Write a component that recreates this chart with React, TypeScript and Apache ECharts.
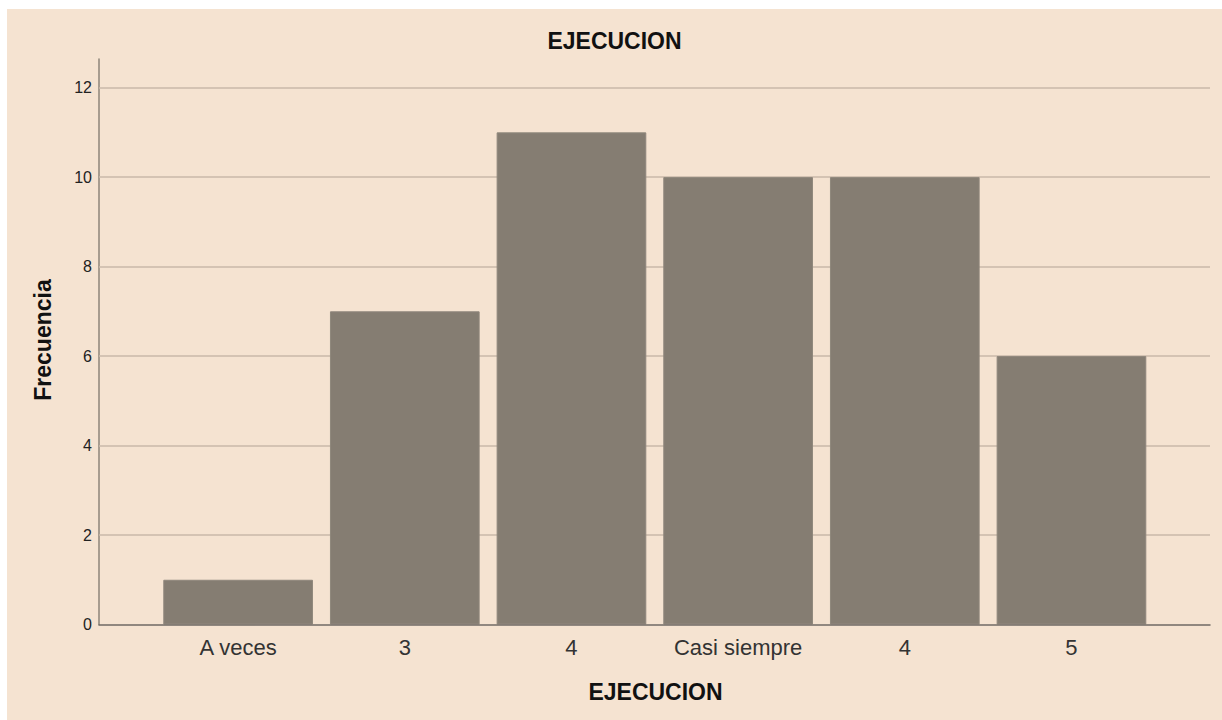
import React, { useEffect, useRef } from "react";
import * as echarts from "echarts";

const categories = ["A veces", "3", "4", "Casi siempre", "4", "5"];
const frequencies = [1, 7, 11, 10, 10, 6];
const yTicks = [0, 2, 4, 6, 8, 10, 12];
const titleText = "EJECUCION";
const xAxisTitle = "EJECUCION";
const yAxisTitle = "Frecuencia";

const FONT = "'Liberation Sans', Arial, sans-serif";
const BG = "#F5E3D1";
const BAR = "#857D72";
const YMAX = 12.64;

export default function App() {
  const ref = useRef<HTMLDivElement>(null);
  useEffect(() => {
    if (!ref.current) return;
    const chart = echarts.init(ref.current, undefined, { renderer: "svg" });
    const option: any = {
      animation: false,
      backgroundColor: BG,
      textStyle: { fontFamily: FONT },
      grid: [
        { left: 92, right: 12, top: 50, bottom: 95.5, containLabel: false },
        { left: 147.8, width: 1000, top: 50, bottom: 95.5, containLabel: false },
      ],
      xAxis: [
        {
          type: "value",
          gridIndex: 0,
          min: 0,
          max: 1,
          z: 10,
          axisLine: { show: true, onZero: false, lineStyle: { color: "#6f6a64", width: 1.5 } },
          axisTick: { show: false },
          axisLabel: { show: false },
          splitLine: { show: false },
        },
        {
          type: "category",
          gridIndex: 1,
          data: categories,
          axisLine: { show: false },
          axisTick: { show: false },
          axisLabel: {
            show: true,
            interval: 0,
            fontSize: 22,
            color: "#333333",
            fontFamily: FONT,
            margin: 12,
          },
          splitLine: { show: false },
        },
      ],
      yAxis: [
        {
          type: "value",
          gridIndex: 0,
          min: 0,
          max: YMAX,
          interval: 2,
          axisLine: { show: true, lineStyle: { color: "#8c8479", width: 1.5 } },
          axisTick: { show: false },
          axisLabel: {
            fontSize: 16,
            color: "#222222",
            fontFamily: FONT,
            margin: 7,
            formatter: (v: number) => (yTicks.includes(v) ? String(v) : ""),
            showMaxLabel: false,
          },
          splitLine: { show: false },
        },
        {
          type: "value",
          gridIndex: 1,
          min: 0,
          max: YMAX,
          show: false,
          splitLine: { show: false },
        },
      ],
      series: [
        {
          type: "line",
          xAxisIndex: 0,
          yAxisIndex: 0,
          data: [],
          silent: true,
          z: 1,
          markLine: {
            silent: true,
            z: 1,
            symbol: ["none", "none"],
            label: { show: false },
            lineStyle: { color: "#c9b9a8", width: 1.5, type: "solid" },
            data: yTicks.filter((t) => t > 0).map((t) => ({ yAxis: t })),
          },
        },
        {
          type: "bar",
          xAxisIndex: 1,
          yAxisIndex: 1,
          data: frequencies,
          barCategoryGap: "10.2%",
          z: 3,
          itemStyle: { color: BAR, borderColor: "#8f877c", borderWidth: 1 },
        },
      ],
      graphic: [
        {
          type: "text",
          left: "center",
          top: 20,
          style: {
            text: titleText,
            fontSize: 23,
            fontWeight: "bold",
            fontFamily: FONT,
            fill: "#111111",
          },
        },
        {
          type: "text",
          x: 648.5,
          y: 683,
          style: {
            text: xAxisTitle,
            fontSize: 23,
            fontWeight: "bold",
            fontFamily: FONT,
            fill: "#111111",
            align: "center",
            verticalAlign: "middle",
          },
        },
        {
          type: "text",
          x: 36,
          y: 331,
          rotation: Math.PI / 2,
          style: {
            text: yAxisTitle,
            fontSize: 23,
            fontWeight: "bold",
            fontFamily: FONT,
            fill: "#111111",
            align: "center",
            verticalAlign: "middle",
          },
        },
      ],
    };
    chart.setOption(option);
    return () => chart.dispose();
  }, []);
  return (
    <div style={{ position: "fixed", left: 0, top: 0, width: 1222, height: 720, background: "#ffffff" }}>
      <div
        ref={ref}
        style={{ position: "absolute", left: 7, top: 9, width: 1215, height: 711 }}
      />
    </div>
  );
}
